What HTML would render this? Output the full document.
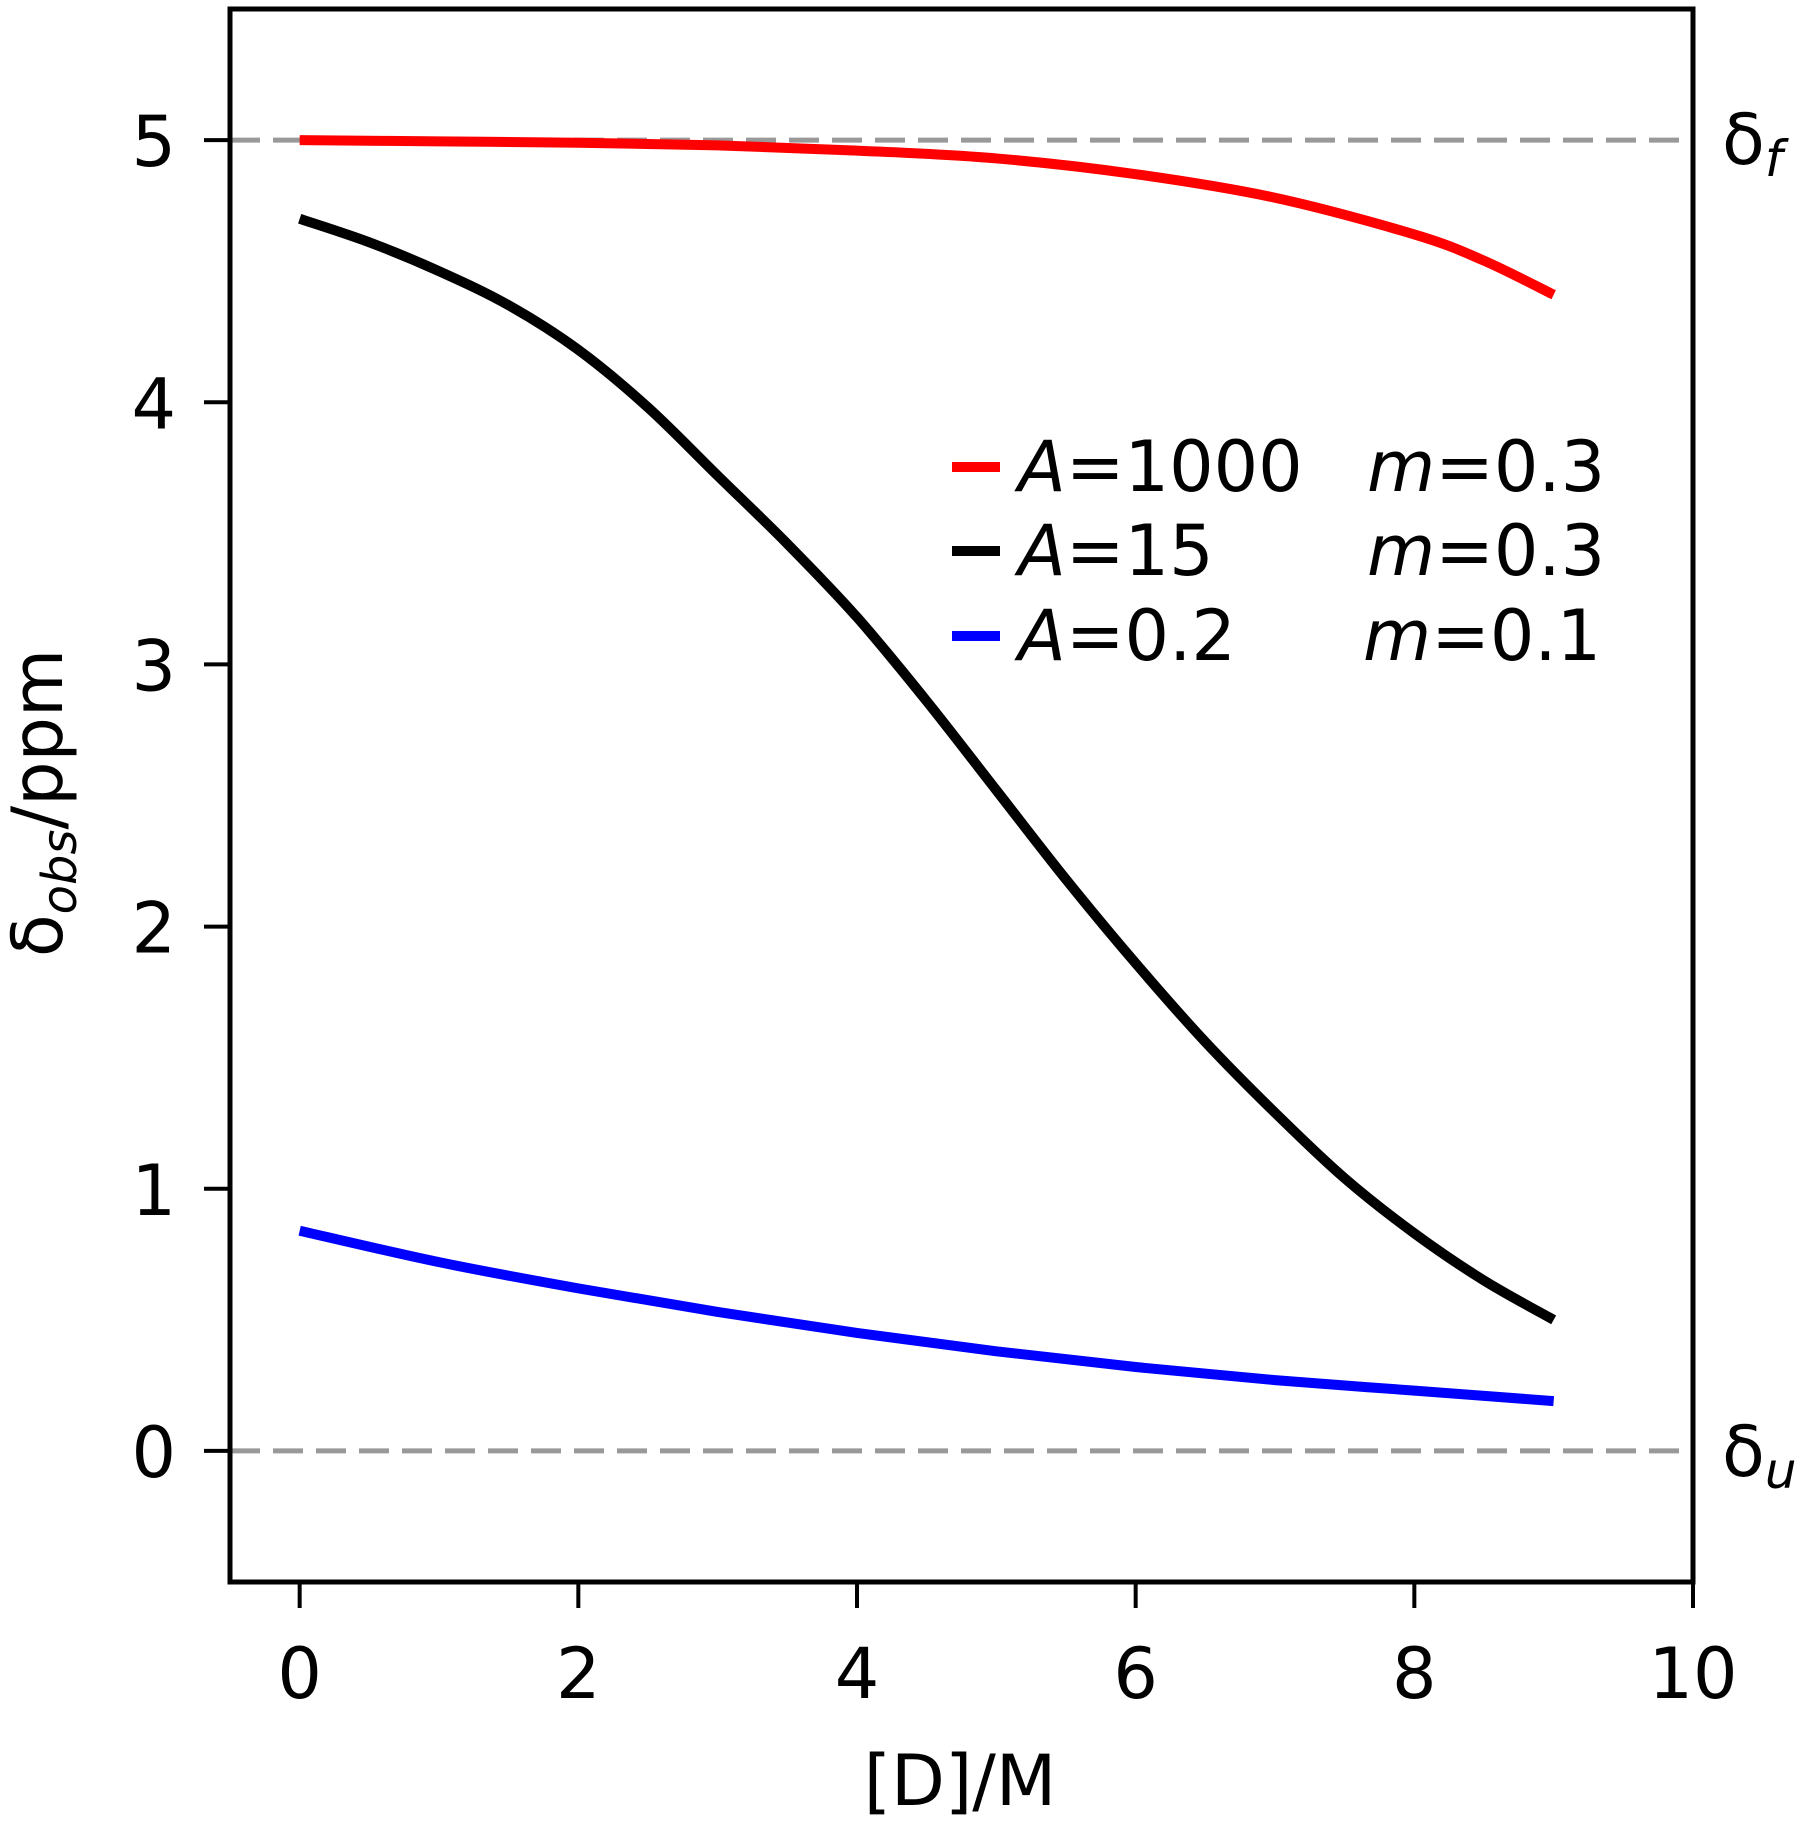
<!DOCTYPE html>
<html><head><meta charset="utf-8"><style>
html,body{margin:0;padding:0;background:#fff;}
svg{display:block;font-family:"DejaVu Sans","Liberation Sans",sans-serif;}
</style></head><body>
<svg id="chart" width="1810" height="1824" viewBox="0 0 1810 1824"></svg>
<script>
const xTicks=[0,2,4,6,8,10];
const yTicks=[0,1,2,3,4,5];
const redX=[0,1,2,3,4,5,6,7,8,8.5,9];
const redY=[5.0,4.995,4.99,4.98,4.96,4.93,4.87,4.78,4.64,4.54,4.41];
const blackX=[0,0.5,1,1.5,2,2.5,3,3.5,4,4.5,5,5.5,6,6.5,7,7.5,8,8.5,9];
const blackY=[4.70,4.61,4.50,4.37,4.20,3.98,3.72,3.46,3.18,2.86,2.52,2.18,1.86,1.56,1.29,1.04,0.83,0.65,0.50];
const blueX=[0,1,2,3,4,5,6,7,8,9];
const blueY=[0.84,0.72,0.62,0.53,0.45,0.38,0.32,0.27,0.23,0.19];
const L=230,R=1693,T=9,B=1582,xmin=-0.5,xmax=10,ymin=-0.5,ymax=5.5;
const sx=v=>L+(v-xmin)/(xmax-xmin)*(R-L);
const sy=v=>B-(v-ymin)/(ymax-ymin)*(B-T);
const NS="http://www.w3.org/2000/svg";
const svg=document.getElementById('chart');
function mk(tag,attrs,parent){const e=document.createElementNS(NS,tag);for(const k in attrs)e.setAttribute(k,attrs[k]);(parent||svg).appendChild(e);return e;}
function smooth(xs,ys){const p=xs.map((x,i)=>[sx(x),sy(ys[i])]);let d=`M${p[0][0]},${p[0][1]}`;
for(let i=0;i<p.length-1;i++){const p0=p[Math.max(0,i-1)],p1=p[i],p2=p[i+1],p3=p[Math.min(p.length-1,i+2)];
const c1=[p1[0]+(p2[0]-p0[0])/6,p1[1]+(p2[1]-p0[1])/6],c2=[p2[0]-(p3[0]-p1[0])/6,p2[1]-(p3[1]-p1[1])/6];
d+=` C${c1[0]},${c1[1]} ${c2[0]},${c2[1]} ${p2[0]},${p2[1]}`;}return d;}
let e;
e=mk('line',{x1:L,x2:R,y1:sy(5),y2:sy(5),stroke:'#999','stroke-width':5,'stroke-dasharray':'30 13'});


e=mk('line',{x1:L,x2:R,y1:sy(0),y2:sy(0),stroke:'#999','stroke-width':5,'stroke-dasharray':'30 13'});


e=mk('path',{d:smooth(redX,redY),fill:'none',stroke:'#ff0000','stroke-width':10});


e=mk('path',{d:smooth(blackX,blackY),fill:'none',stroke:'#000','stroke-width':10});


e=mk('path',{d:smooth(blueX,blueY),fill:'none',stroke:'#0000ff','stroke-width':10});


e=mk('rect',{x:L,y:T,width:R-L,height:B-T,fill:'none',stroke:'#000','stroke-width':5});


xTicks.forEach(v=>{const x=sx(v);
e=mk('line',{x1:x,x2:x,y1:B,y2:B+26,stroke:'#000','stroke-width':4});


e=mk('text',{x:x,y:1698,'font-size':70,'text-anchor':'middle'});e.textContent=v;

});
yTicks.forEach(v=>{const y=sy(v);
e=mk('line',{x1:L-26,x2:L,y1:y,y2:y,stroke:'#000','stroke-width':4});


e=mk('text',{x:176,y:y+26,'font-size':70,'text-anchor':'end'});e.textContent=v;

});
</script>
<svg style="position:absolute;left:0;top:0" width="1810" height="1824">
<g font-family="DejaVu Sans, Liberation Sans, sans-serif" font-size="70">
<text x="960" y="1805" text-anchor="middle">[D]/M</text>
<text transform="translate(62,803) rotate(-90)" text-anchor="middle">δ<tspan font-size="48" font-style="italic" dy="14">obs</tspan><tspan dy="-14">/ppm</tspan></text>
<text x="1722" y="164">δ<tspan font-size="50" font-style="italic" dy="12">f</tspan></text>
<text x="1722" y="1476">δ<tspan font-size="50" font-style="italic" dy="12">u</tspan></text>
<g>
<line x1="952" x2="1000" y1="467" y2="467" stroke="#ff0000" stroke-width="10"/>
<text x="1018" y="491"><tspan font-style="italic">A</tspan>=1000</text>
<text x="1367" y="491"><tspan font-style="italic">m</tspan>=0.3</text>
<line x1="952" x2="1000" y1="551" y2="551" stroke="#000" stroke-width="10"/>
<text x="1018" y="575"><tspan font-style="italic">A</tspan>=15</text>
<text x="1367" y="575"><tspan font-style="italic">m</tspan>=0.3</text>
<line x1="952" x2="1000" y1="636" y2="636" stroke="#0000ff" stroke-width="10"/>
<text x="1018" y="660"><tspan font-style="italic">A</tspan>=0.2</text>
<text x="1363" y="660"><tspan font-style="italic">m</tspan>=0.1</text>
</g>
</g>
</svg>
</body></html>
